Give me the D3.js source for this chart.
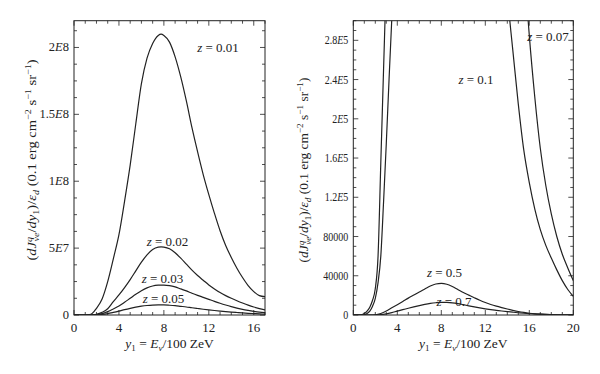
<!DOCTYPE html>
<html><head><meta charset="utf-8">
<script src="https://cdn.jsdelivr.net/npm/d3@7"></script>
<style>body{margin:0;background:#fff}svg{display:block}svg text{font-family:"Liberation Serif","Times New Roman",Times,"DejaVu Serif",serif;fill:#222}</style>
</head><body><svg id="c" width="600" height="374" font-family="Liberation Serif, Times New Roman, serif"></svg>
<script>
// ---------- data ----------
const xLeft = [0,1,1.5,2,2.5,3,3.5,4,4.5,5,5.5,6,6.5,7,7.5,7.75,8,8.5,9,9.5,10,10.5,11,11.5,12,12.5,13,13.5,14,14.5,15,15.5,16,16.5,17];
const z001 = [0,0,0.5e6,5e6,1.2e7,2.5e7,4.2e7,6e7,8.5e7,1.12e8,1.43e8,1.73e8,1.92e8,2.03e8,2.09e8,2.1e8,2.09e8,2.04e8,1.93e8,1.78e8,1.6e8,1.4e8,1.22e8,1.05e8,9e7,7.6e7,6.3e7,5.2e7,4.3e7,3.5e7,2.8e7,2.2e7,1.75e7,1.45e7,1.37e7];
const z002 = [0,0,0,0.5e6,2e6,4.7e6,1.0e7,1.5e7,2.05e7,2.65e7,3.3e7,3.95e7,4.5e7,4.9e7,5.08e7,5.1e7,5.08e7,4.95e7,4.65e7,4.25e7,3.8e7,3.35e7,2.95e7,2.6e7,2.25e7,1.95e7,1.68e7,1.45e7,1.25e7,1.07e7,0.9e7,0.74e7,0.6e7,0.48e7,0.38e7];
const z003 = [0,0,0,0.3e6,1e6,2.5e6,4.5e6,6.7e6,9.5e6,1.25e7,1.55e7,1.82e7,2.03e7,2.17e7,2.23e7,2.24e7,2.24e7,2.2e7,2.1e7,1.95e7,1.8e7,1.63e7,1.47e7,1.32e7,1.17e7,1.02e7,0.88e7,0.75e7,0.63e7,0.52e7,0.42e7,0.34e7,0.27e7,0.21e7,0.17e7];
const z005 = [0,0,0,0.1e6,0.4e6,1e6,1.9e6,2.9e6,4e6,5e6,5.9e6,6.6e6,7.1e6,7.4e6,7.5e6,7.5e6,7.5e6,7.3e6,7e6,6.5e6,6e6,5.4e6,4.85e6,4.3e6,3.8e6,3.35e6,2.92e6,2.53e6,2.18e6,1.85e6,1.55e6,1.28e6,1.05e6,0.85e6,0.7e6];

const x007 = [0,0.5,0.75,1,1.25,1.5,1.75,2,2.25,2.5,2.75,3,3.5,4,5,6,7,8,9,10,11,12,13,14,15,15.5,16,16.5,17,17.5,18,18.5,19,19.5,20];
const z007 = [0,0,200,1500,4000,8000,15000,27000,60000,155000,250000,345000,560000,800000,1300000,1800000,2200000,2300000,2150000,1850000,1600000,1300000,1000000,700000,470000,365000,285000,222000,170000,132000,103000,80000,62000,48000,35000];
const x010 = [0,0.75,1,1.25,1.5,1.75,2,2.25,2.5,2.75,3,3.25,3.5,4,5,6,7,8,9,10,11,12,13,14,14.5,15,15.5,16,16.5,17,17.5,18,18.5,19,19.5,20];
const z010 = [0,0,200,1500,4000,9000,17000,33000,60000,115000,175000,240000,302000,410000,650000,880000,1050000,1100000,1020000,870000,720000,580000,440000,325000,270000,215000,168000,135000,108000,87000,71000,58000,46000,35000,26000,19000];
const xRight = [0,1.5,2,2.5,3,3.5,4,4.5,5,5.5,6,6.5,7,7.5,8,8.5,9,9.5,10,10.5,11,11.5,12,12.5,13,13.5,14,14.5,15,15.5,16,16.5,17,18,19,20];
const z05 = [0,0,200,1500,4000,7300,10500,13800,17200,20300,23500,26500,29500,31600,32200,31300,29000,26000,23000,20300,17600,15000,12700,10700,9000,7500,6100,4800,3600,2600,1800,1200,800,350,150,70];
const z07 = [0,0,0,300,1200,2500,4000,5400,6900,8300,9600,10800,11800,12500,12900,12800,12400,11600,10500,9300,8200,7200,6300,5500,4800,4100,3450,2850,2300,1800,1400,1050,800,420,200,100];

const leftXTicks = [0,4,8,12,16];
const leftYTicks = [0,5e7,1e8,1.5e8,2e8];
const leftYLabels = [["0"],["5","E","7"],["1","E","8"],["1.5","E","8"],["2","E","8"]];
const rightXTicks = [0,4,8,12,16,20];
const rightYTicks = [0,40000,80000,120000,160000,200000,240000,280000];
const rightYLabels = [["0"],["40000"],["80000"],["1.2","E","5"],["1.6","E","5"],["2","E","5"],["2.4","E","5"],["2.8","E","5"]];

// ---------- drawing ----------
const svg = d3.select("#c");
const ink = "#222";

function panel(opt){
  const g = svg.append("g");
  const x = d3.scaleLinear().domain(opt.xd).range([opt.l, opt.r]);
  const y = d3.scaleLinear().domain(opt.yd).range([opt.b, opt.t]);
  const id = "clip"+opt.name;
  svg.append("defs").append("clipPath").attr("id",id).append("rect")
    .attr("x",opt.l).attr("y",opt.t).attr("width",opt.r-opt.l).attr("height",opt.b-opt.t);
  const line = d3.line().x(d=>x(d[0])).y(d=>y(d[1])).curve(d3.curveMonotoneX);
  opt.series.forEach(s=>{
    g.append("path").attr("clip-path",`url(#${id})`)
     .attr("d", line(s.xs.map((v,i)=>[v,s.ys[i]])))
     .attr("fill","none").attr("stroke",ink).attr("stroke-width",1.2);
  });
  const tk = g.append("g").attr("stroke",ink).attr("stroke-width",0.8);
  d3.range(opt.xd[0], opt.xd[1]+1e-9, opt.xMinor).forEach(v=>{
    const major = opt.xTicks.some(t=>Math.abs(t-v)<1e-9);
    const L = major?5:3;
    tk.append("line").attr("x1",x(v)).attr("x2",x(v)).attr("y1",opt.b).attr("y2",opt.b-L);
    tk.append("line").attr("x1",x(v)).attr("x2",x(v)).attr("y1",opt.t).attr("y2",opt.t+L);
  });
  d3.range(opt.yd[0], opt.yd[1]+1e-9, opt.yMinor).forEach(v=>{
    const major = opt.yTicks.some(t=>Math.abs(t-v)<1e-6);
    const L = major?5:3;
    tk.append("line").attr("y1",y(v)).attr("y2",y(v)).attr("x1",opt.l).attr("x2",opt.l+L);
    tk.append("line").attr("y1",y(v)).attr("y2",y(v)).attr("x1",opt.r).attr("x2",opt.r-L);
  });
  g.append("rect").attr("x",opt.l).attr("y",opt.t).attr("width",opt.r-opt.l).attr("height",opt.b-opt.t)
   .attr("fill","none").attr("stroke",ink).attr("stroke-width",1);
  opt.xTicks.forEach(v=>{
    g.append("text").attr("x",x(v)).attr("y",opt.b+17).attr("text-anchor","middle")
     .attr("font-size",13).text(v);
  });
  opt.yTicks.forEach((v,i)=>{
    const t = g.append("text").attr("text-anchor","end").attr("font-size",12.5)
      .attr("transform",`translate(${opt.l-5},${y(v)+4}) scale(${opt.ySx},1)`);
    opt.yLabels[i].forEach(p=>{ t.append("tspan").attr("font-style", p==="E"?"italic":"normal").text(p); });
  });
  const xt = g.append("text").attr("x",(opt.l+opt.r)/2).attr("y",348).attr("text-anchor","middle").attr("font-size",13.5);
  xt.append("tspan").attr("font-style","italic").text("y");
  xt.append("tspan").attr("font-size",9).attr("dy",3).text("1");
  xt.append("tspan").attr("dy",-3).text(" = ");
  xt.append("tspan").attr("font-style","italic").text("E");
  xt.append("tspan").attr("font-size",9).attr("dy",3).attr("font-style","italic").text("ν");
  xt.append("tspan").attr("dy",-3).text("/100 ZeV");
  const yt = g.append("text").attr("text-anchor","middle").attr("font-size",13)
     .attr("transform",`translate(${opt.ytx},${opt.yty}) rotate(-90) scale(${opt.ytSx},1)`);
  yt.append("tspan").text("(");
  yt.append("tspan").attr("font-style","italic").text("dJ");
  yt.append("tspan").attr("font-size",9).attr("dy",-4).attr("font-style","italic").text("q");
  yt.append("tspan").attr("font-size",9).attr("dx",-4).attr("dy",7).attr("font-style","italic").text("νe");
  yt.append("tspan").attr("dy",-3).text("/");
  yt.append("tspan").attr("font-style","italic").text("dy");
  yt.append("tspan").attr("font-size",9).attr("dy",3).text("1");
  yt.append("tspan").attr("dy",-3).text(")/");
  yt.append("tspan").attr("font-style","italic").text("ε");
  yt.append("tspan").attr("font-size",9).attr("dy",3).attr("font-style","italic").text("d");
  yt.append("tspan").attr("dy",-3).text(" (0.1 erg cm");
  yt.append("tspan").attr("font-size",9).attr("dy",-5).text("−2");
  yt.append("tspan").attr("dy",5).text(" s");
  yt.append("tspan").attr("font-size",9).attr("dy",-5).text("−1");
  yt.append("tspan").attr("dy",5).text(" sr");
  yt.append("tspan").attr("font-size",9).attr("dy",-5).text("−1");
  yt.append("tspan").attr("dy",5).text(")");
  opt.labels.forEach(lb=>{
    const t = g.append("text").attr("x",lb[1]).attr("y",lb[2]).attr("font-size",13).attr("text-anchor","middle");
    t.append("tspan").attr("font-style","italic").text("z");
    t.append("tspan").text(" = "+lb[0]);
  });
}

panel({name:"L", xd:[0,17], yd:[0,2.2e8], l:74, r:265, t:20.7, b:315,
  xTicks:leftXTicks, xMinor:1, yTicks:leftYTicks, yMinor:1.25e7, yLabels:leftYLabels, ySx:1,
  ytx:36, yty:160, ytSx:1.12,
  series:[{xs:xLeft,ys:z001},{xs:xLeft,ys:z002},{xs:xLeft,ys:z003},{xs:xLeft,ys:z005}],
  labels:[["0.01",218,52],["0.02",167.5,246],["0.03",162.5,283],["0.05",163.5,303]]});

panel({name:"R", xd:[0,20], yd:[0,3e5], l:353.3, r:573.3, t:20.7, b:315,
  xTicks:rightXTicks, xMinor:1, yTicks:rightYTicks, yMinor:10000, yLabels:rightYLabels, ySx:0.8,
  ytx:308, yty:170, ytSx:1.03,
  series:[{xs:x007,ys:z007},{xs:x010,ys:z010},{xs:xRight,ys:z05},{xs:xRight,ys:z07}],
  labels:[["0.07",548,41],["0.1",476,84],["0.5",444.5,277],["0.7",454,306]]});
</script></body></html>
